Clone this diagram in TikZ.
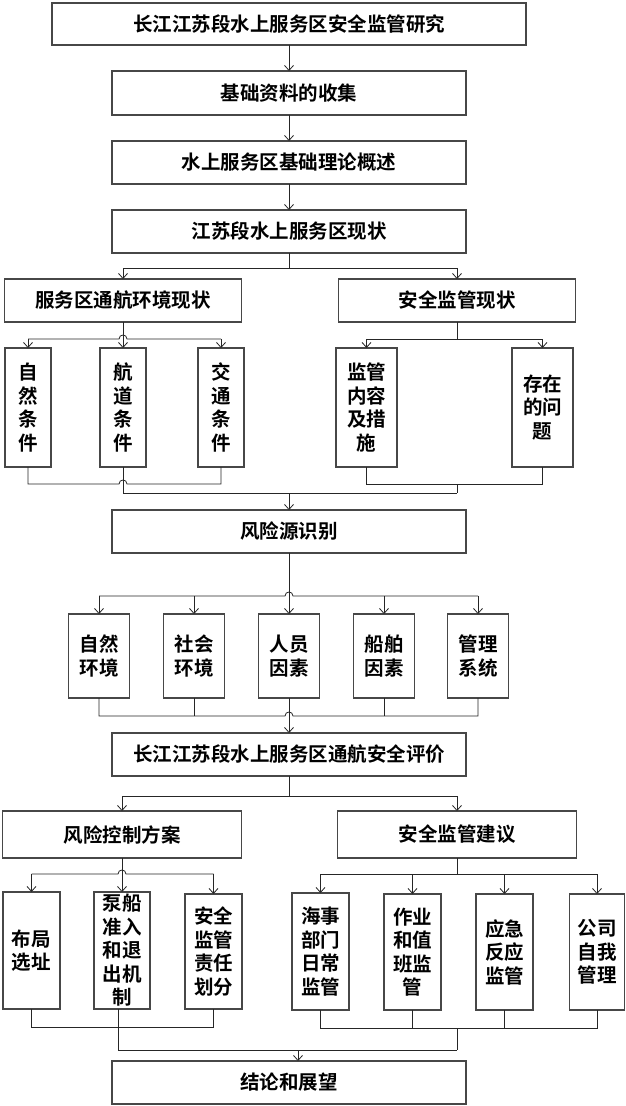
\documentclass[tikz,border=0pt]{standalone}
\usepackage{fontspec}
\setmainfont{Noto Sans CJK SC}[BoldFont={Noto Sans CJK SC Bold}]
\usetikzlibrary{arrows.meta}
\begin{document}
\begin{tikzpicture}[x=1pt,y=-1pt,
  box/.style={draw=black!72, line width=1.4pt, fill=white, inner sep=0pt, outer sep=0pt,
    align=center, font=\fontsize{19.5}{23.5}\selectfont\bfseries},
  conn/.style={draw=black!85, line width=0.8pt},
  arr/.style={conn, -{Straight Barb[length=5pt,width=9pt]}},
  jmp/.style={}]
\useasboundingbox (0,0) rectangle (626,1106);
% nodes
\node[box,minimum width=474pt,minimum height=42pt] (t0) at (289,24) {长江江苏段水上服务区安全监管研究};
\node[box,minimum width=354pt,minimum height=44pt] (t1) at (289,93) {基础资料的收集};
\node[box,minimum width=354pt,minimum height=43pt] (t2) at (289,162.5) {水上服务区基础理论概述};
\node[box,minimum width=354pt,minimum height=43pt] (t3) at (289,231.5) {江苏段水上服务区现状};
\node[box,minimum width=237pt,minimum height=43pt] (L1) at (123,300.5) {服务区通航环境现状};
\node[box,minimum width=237pt,minimum height=43pt] (R1) at (457,300.5) {安全监管现状};
\node[box,minimum width=46pt,minimum height=119pt] (a1) at (28,407.5) {自\\然\\条\\件};
\node[box,minimum width=46pt,minimum height=119pt] (a2) at (123,407.5) {航\\道\\条\\件};
\node[box,minimum width=46pt,minimum height=119pt] (a3) at (221,407.5) {交\\通\\条\\件};
\node[box,minimum width=61pt,minimum height=119pt] (a4) at (366.5,407.5) {监管\\内容\\及措\\施};
\node[box,minimum width=61pt,minimum height=119pt] (a5) at (542.5,407.5) {存在\\的问\\题};
\node[box,minimum width=354pt,minimum height=43pt] (r0) at (289,531.5) {风险源识别};
\node[box,minimum width=61pt,minimum height=84pt] (b1) at (99,656) {自然\\环境};
\node[box,minimum width=61pt,minimum height=84pt] (b2) at (194,656) {社会\\环境};
\node[box,minimum width=61pt,minimum height=84pt] (b3) at (289,656) {人员\\因素};
\node[box,minimum width=61pt,minimum height=84pt] (b4) at (384,656) {船舶\\因素};
\node[box,minimum width=61pt,minimum height=84pt] (b5) at (478,656) {管理\\系统};
\node[box,minimum width=354pt,minimum height=43pt] (e0) at (289,754.5) {长江江苏段水上服务区通航安全评价};
\node[box,minimum width=239pt,minimum height=47pt] (L2) at (122,834.5) {风险控制方案};
\node[box,minimum width=239pt,minimum height=47pt] (R2) at (457,834.5) {安全监管建议};
\node[box,minimum width=57pt,minimum height=117pt] (c1) at (31.5,950.5) {布局\\选址};
\node[box,minimum width=56pt,minimum height=117pt] (c2) at (122,950.5) {泵船\\准入\\和退\\出机\\制};
\node[box,minimum width=57pt,minimum height=115pt] (c3) at (213.5,951.5) {安全\\监管\\责任\\划分};
\node[box,minimum width=57pt,minimum height=117pt] (d1) at (320.5,951.5) {海事\\部门\\日常\\监管};
\node[box,minimum width=57pt,minimum height=116pt] (d2) at (412.5,952) {作业\\和值\\班监\\管};
\node[box,minimum width=57pt,minimum height=116pt] (d3) at (504.5,952) {应急\\反应\\监管};
\node[box,minimum width=55pt,minimum height=116pt] (d4) at (597,952) {公司\\自我\\管理};
\node[box,minimum width=354pt,minimum height=43pt] (f0) at (289,1082.5) {结论和展望};
% top chain
\draw[arr] (t0.south) -- (t1.north);
\draw[arr] (t1.south) -- (t2.north);
\draw[arr] (t2.south) -- (t3.north);
% split to L1 / R1
\coordinate (s1) at (289,268);
\draw[conn] (t3.south) -- (s1);
\draw[conn] (L1.north |- s1) -- (R1.north |- s1);
\draw[arr] (L1.north |- s1) -- (L1.north);
\draw[arr] (R1.north |- s1) -- (R1.north);
% L1 children
\coordinate (jA) at (123,339);
\draw[arr] (L1.south) -- (a2.north);
\draw[conn] (a1.north |- jA) -- ([xshift=-4pt]jA) .. controls +(0,-5.3) and +(0,-5.3) .. ([xshift=4pt]jA) -- (a3.north |- jA);
\draw[arr] (a1.north |- jA) -- (a1.north);
\draw[arr] (a3.north |- jA) -- (a3.north);
% R1 children
\coordinate (kA) at (457,339);
\draw[conn] (R1.south) -- (kA);
\draw[conn] (a4.north |- kA) -- (a5.north |- kA);
\draw[arr] (a4.north |- kA) -- (a4.north);
\draw[arr] (a5.north |- kA) -- (a5.north);
% joins to r0
\coordinate (jB) at (123,484);
\coordinate (mB) at (289,493);
\draw[conn] (a1.south) -- (a1.south |- jB) -- ([xshift=-4pt]jB) .. controls +(0,-5.3) and +(0,-5.3) .. ([xshift=4pt]jB) -- (a3.south |- jB) -- (a3.south);
\draw[conn] (a2.south) -- (a2.south |- mB) -- (R1.south |- mB);
\draw[conn] (a4.south) -- (a4.south |- jB) -- (a5.south |- jB) -- (a5.south);
\draw[conn] (R1.south |- jB) -- (R1.south |- mB);
\draw[arr] (mB) -- (r0.north);
% r0 split
\coordinate (jC) at (289,596);
\draw[arr] (r0.south) -- (b3.north);
\draw[conn] (b1.north |- jC) -- ([xshift=-4pt]jC) .. controls +(0,-5.3) and +(0,-5.3) .. ([xshift=4pt]jC) -- (b5.north |- jC);
\draw[arr] (b1.north |- jC) -- (b1.north);
\draw[arr] (b2.north |- jC) -- (b2.north);
\draw[arr] (b4.north |- jC) -- (b4.north);
\draw[arr] (b5.north |- jC) -- (b5.north);
% b join
\coordinate (jD) at (289,716);
\draw[arr] (b3.south) -- (e0.north);
\draw[conn] (b1.south) -- (b1.south |- jD) -- ([xshift=-4pt]jD) .. controls +(0,-5.3) and +(0,-5.3) .. ([xshift=4pt]jD) -- (b5.south |- jD) -- (b5.south);
\draw[conn] (b2.south) -- (b2.south |- jD);
\draw[conn] (b4.south) -- (b4.south |- jD);
% e0 split
\coordinate (sE) at (289,796);
\draw[conn] (e0.south) -- (sE);
\draw[conn] (L2.north |- sE) -- (R2.north |- sE);
\draw[arr] (L2.north |- sE) -- (L2.north);
\draw[arr] (R2.north |- sE) -- (R2.north);
% L2 children
\coordinate (jF) at (122,874);
\draw[arr] (L2.south) -- (c2.north);
\draw[conn] (c1.north |- jF) -- ([xshift=-4pt]jF) .. controls +(0,-5.3) and +(0,-5.3) .. ([xshift=4pt]jF) -- (c3.north |- jF);
\draw[arr] (c1.north |- jF) -- (c1.north);
\draw[arr] (c3.north |- jF) -- (c3.north);
% R2 children
\coordinate (kF) at (457,874);
\draw[conn] (R2.south) -- (kF);
\draw[conn] (d1.north |- kF) -- (d4.north |- kF);
\draw[arr] (d1.north |- kF) -- (d1.north);
\draw[arr] (d2.north |- kF) -- (d2.north);
\draw[arr] (d3.north |- kF) -- (d3.north);
\draw[arr] (d4.north |- kF) -- (d4.north);
% bottom joins
\coordinate (jG) at (122,1027);
\coordinate (hG) at (118,1050);
\coordinate (kG) at (457,1028);
\coordinate (mG) at (298,1050);
\draw[conn] (c1.south) -- (c1.south |- jG) -- (c3.south |- jG) -- (c3.south);
\draw[conn] ([xshift=-4pt]c2.south) -- (hG) -- (R2.south |- hG);
\draw[conn] (d1.south) -- (d1.south |- kG) -- (d4.south |- kG) -- (d4.south);
\draw[conn] (d2.south) -- (d2.south |- kG);
\draw[conn] (d3.south) -- (d3.south |- kG);
\draw[conn] (R2.south |- kG) -- (R2.south |- hG);
\draw[arr] (mG) -- (mG |- f0.north);
\end{tikzpicture}
\end{document}
